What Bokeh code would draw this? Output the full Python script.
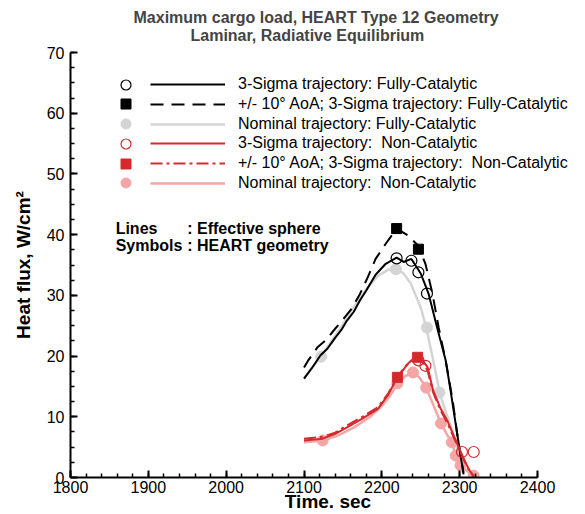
from bokeh.plotting import figure
from bokeh.models import Legend, LegendItem, Label, Range1d, SingleIntervalTicker, Title
from bokeh.embed import file_html
from bokeh.resources import INLINE

FONT = "Liberation Sans"

# ---- data ----
# 3-Sigma trajectory, Fully-Catalytic (effective sphere, line)
t_3s_fc = [2100, 2110, 2121, 2130, 2140, 2148, 2155, 2164, 2172, 2180, 2192, 2205, 2219, 2228, 2238, 2250, 2260, 2271, 2282, 2288, 2298, 2305]
q_3s_fc = [16.3, 18.0, 20.1, 21.2, 23.0, 24.3, 25.8, 27.3, 29.2, 30.8, 33.4, 35.2, 36.2, 35.5, 36.0, 33.6, 30.3, 24.7, 19.3, 14.6, 6.2, 0.5]
# HEART geometry symbols
ts_3s_fc = [2219, 2238, 2247, 2258]
qs_3s_fc = [36.1, 35.7, 33.8, 30.3]

# +/- 10 deg AoA; 3-Sigma, Fully-Catalytic
t_aoa_fc = [2100, 2105, 2117, 2128, 2140, 2150, 2160, 2171, 2182, 2192, 2205, 2219, 2233, 2246, 2256, 2265, 2273, 2282, 2291, 2298, 2305]
q_aoa_fc = [18.1, 19.2, 21.4, 22.6, 24.5, 26.0, 27.6, 30.0, 33.0, 36.0, 38.5, 41.0, 39.9, 38.3, 35.2, 30.3, 24.7, 19.3, 12.7, 6.1, 0.8]
ts_aoa_fc = [2219, 2247]
qs_aoa_fc = [41.0, 37.6]

# Nominal trajectory, Fully-Catalytic
t_nom_fc = [2100, 2110, 2122, 2135, 2150, 2165, 2180, 2195, 2208, 2218, 2228, 2237, 2250, 2257, 2266, 2275, 2283, 2291, 2298, 2304]
q_nom_fc = [16.3, 18.0, 20.0, 22.4, 25.2, 28.3, 31.0, 33.2, 34.2, 34.4, 33.6, 32.0, 28.0, 24.7, 19.3, 13.6, 10.5, 7.5, 4.2, 0.8]
ts_nom_fc = [2122, 2218, 2258, 2274]
qs_nom_fc = [19.9, 34.3, 24.7, 14.0]

# 3-Sigma trajectory, Non-Catalytic
t_3s_nc = [2100, 2124, 2140, 2153, 2175, 2195, 2208, 2220, 2234, 2246, 2253, 2259, 2266, 2275, 2284, 2297, 2305, 2312, 2318]
q_3s_nc = [6.1, 6.4, 7.2, 8.1, 9.7, 11.3, 13.6, 16.5, 18.8, 20.1, 19.2, 18.1, 14.3, 11.5, 9.4, 5.5, 3.2, 1.3, 0.2]
ts_3s_nc = [2247, 2256, 2303, 2318]
qs_3s_nc = [19.3, 18.4, 4.2, 4.2]

# +/- 10 deg AoA; 3-Sigma, Non-Catalytic
t_aoa_nc = [2100, 2124, 2140, 2153, 2175, 2195, 2208, 2220, 2234, 2246, 2253, 2259, 2266, 2275, 2284, 2297, 2305, 2312, 2318]
q_aoa_nc = [6.4, 6.7, 7.4, 8.4, 10.0, 11.6, 13.8, 16.6, 18.9, 19.9, 19.0, 17.5, 14.0, 11.2, 9.0, 5.3, 3.0, 1.2, 0.2]
ts_aoa_nc = [2220, 2246]
qs_aoa_nc = [16.5, 19.8]

# Nominal trajectory, Non-Catalytic
t_nom_nc = [2100, 2124, 2145, 2165, 2185, 2200, 2210, 2220, 2230, 2240, 2248, 2257, 2266, 2276, 2284, 2290, 2295, 2301, 2310, 2318]
q_nom_nc = [5.8, 6.1, 7.0, 8.3, 10.0, 11.8, 13.4, 15.4, 16.7, 17.3, 16.5, 14.8, 12.0, 8.9, 7.0, 5.8, 3.6, 2.0, 1.0, 0.3]
ts_nom_nc = [2124, 2220, 2240, 2257, 2276, 2290, 2295, 2301, 2318]
qs_nom_nc = [6.1, 15.5, 17.3, 14.8, 8.9, 5.8, 3.6, 2.0, 0.3]

labels = [
    "3-Sigma trajectory: Fully-Catalytic",
    "+/- 10\u00b0 AoA; 3-Sigma trajectory: Fully-Catalytic",
    "Nominal trajectory: Fully-Catalytic",
    "3-Sigma trajectory:  Non-Catalytic",
    "+/- 10\u00b0 AoA; 3-Sigma trajectory:  Non-Catalytic",
    "Nominal trajectory:  Non-Catalytic",
]
title_lines = ["Maximum cargo load, HEART Type 12 Geometry", "Laminar, Radiative Equilibrium"]
x_title = "Time. sec"
y_title = "Heat flux, W/cm\u00b2"

BLACK = "#000000"
GREY = "#d4d4d4"
RED = "#d42a2e"
PINK = "#f5a5a5"

# frame: 70..585 px wide; axis drawn only over 1800..2400
X0, X1 = 1800, 2400
px_per_s = 467 / (X1 - X0)
x_end = X0 + 515 / px_per_s

p = figure(width=585, height=514, output_backend="svg", toolbar_location=None, title=None,
           x_range=Range1d(X0, x_end), y_range=Range1d(0, 70),
           min_border_left=70, min_border_right=0, min_border_top=52, min_border_bottom=37)
p.background_fill_color = "white"
p.border_fill_color = "white"
p.outline_line_color = None
p.xgrid.visible = False
p.ygrid.visible = False

t2 = Title(text=title_lines[1], align="left", offset=120, text_font=FONT, text_font_size="16px",
           text_font_style="bold", standoff=18)
t1 = Title(text=title_lines[0], align="left", offset=63, text_font=FONT, text_font_size="16px",
           text_font_style="bold", standoff=-20)
p.add_layout(t2, "above")
p.add_layout(t1, "above")

p.xaxis.ticker = SingleIntervalTicker(interval=100, num_minor_ticks=5)
p.yaxis.ticker = SingleIntervalTicker(interval=10, num_minor_ticks=4)
p.xaxis.bounds = (X0, X1)
for ax in (p.xaxis, p.yaxis):
    ax.axis_line_width = 2
    ax.axis_line_color = "black"
    ax.major_tick_in = 7
    ax.major_tick_out = 0
    ax.minor_tick_in = 4
    ax.minor_tick_out = 0
    ax.major_tick_line_width = 2
    ax.minor_tick_line_width = 1.5
    ax.major_tick_line_color = "black"
    ax.minor_tick_line_color = "black"
    ax.major_label_text_font = FONT
    ax.major_label_text_font_size = "16px"
    ax.major_label_text_color = "black"
    ax.axis_label_text_font = FONT
    ax.axis_label_text_font_size = "19px"
    ax.axis_label_text_font_style = "bold"
    ax.axis_label_text_color = "black"
p.xaxis.axis_label = x_title
p.yaxis.axis_label = y_title
p.xaxis.major_label_standoff = 3
p.xaxis.axis_label_standoff = -5
p.yaxis.major_label_standoff = 6
p.yaxis.axis_label_standoff = 10

# lines and symbols
l_nom_fc = p.line(t_nom_fc, q_nom_fc, line_color=GREY, line_width=2.5)
s_nom_fc = p.scatter(ts_nom_fc, qs_nom_fc, marker="circle", size=11, fill_color=GREY, line_color=GREY)
l_nom_nc = p.line(t_nom_nc, q_nom_nc, line_color=PINK, line_width=2.5)
s_nom_nc = p.scatter(ts_nom_nc, qs_nom_nc, marker="circle", size=11, fill_color=PINK, line_color=PINK)
l_3s_fc = p.line(t_3s_fc, q_3s_fc, line_color=BLACK, line_width=2)
l_aoa_fc = p.line(t_aoa_fc, q_aoa_fc, line_color=BLACK, line_width=2, line_dash="13 8")
s_3s_fc = p.scatter(ts_3s_fc, qs_3s_fc, marker="circle", size=11, fill_color=None, line_color=BLACK, line_width=1.2)
s_aoa_fc = p.scatter(ts_aoa_fc, qs_aoa_fc, marker="square", size=10, fill_color=BLACK, line_color=BLACK)
l_3s_nc = p.line(t_3s_nc, q_3s_nc, line_color=RED, line_width=2)
l_aoa_nc = p.line(t_aoa_nc, q_aoa_nc, line_color=RED, line_width=2, line_dash="12 4 3 4")
s_3s_nc = p.scatter(ts_3s_nc, qs_3s_nc, marker="circle", size=11, fill_color=None, line_color=RED, line_width=1.2)
s_aoa_nc = p.scatter(ts_aoa_nc, qs_aoa_nc, marker="square", size=10, fill_color=RED, line_color=RED)

sym_rs = [s_3s_fc, s_aoa_fc, s_nom_fc, s_3s_nc, s_aoa_nc, s_nom_nc]
line_rs = [l_3s_fc, l_aoa_fc, l_nom_fc, l_3s_nc, l_aoa_nc, l_nom_nc]


def make_legend(item, loc, gw, gh, standoff):
    lg = Legend(items=[item], location=loc, glyph_width=gw, glyph_height=gh,
                label_standoff=standoff, padding=0, margin=0, spacing=0,
                label_height=gh, border_line_color=None, background_fill_alpha=0,
                label_text_font=FONT, label_text_font_size="16px", label_text_color="black")
    p.add_layout(lg)


frame_bottom = 477
for i in range(6):
    yc = 84 + 19.8 * i
    make_legend(LegendItem(label=" ", renderers=[sym_rs[i]]),
                (43, round(frame_bottom - 12.5 - yc)), 25, 25, 0)
    make_legend(LegendItem(label=labels[i], renderers=[line_rs[i]]),
                (80, round(frame_bottom - 10 - yc)), 75, 20, 13)

for txt, x, y in [("Lines", 1858, 41.0), (": Effective sphere", 1950, 41.0),
                  ("Symbols", 1858, 38.2), (": HEART geometry", 1950, 38.2)]:
    p.add_layout(Label(x=x, y=y, text=txt, text_font=FONT, text_font_size="16px",
                       text_font_style="bold", text_baseline="middle", text_color="black"))

open("out.html", "w").write(file_html(p, INLINE))
